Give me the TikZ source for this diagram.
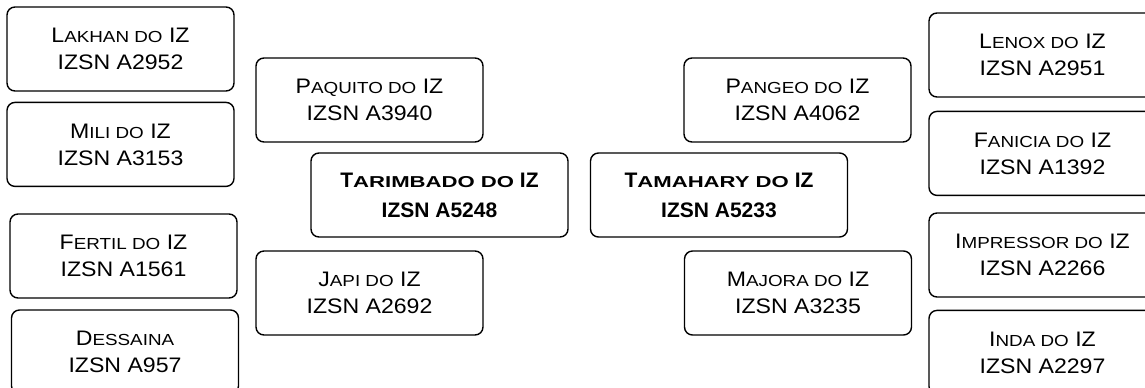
\documentclass[tikz,border=0pt]{standalone}
\usepackage{graphicx}
\usepackage{fontspec}
\newfontfamily\regfont{Liberation Sans}[FakeStretch=1.1]
\newfontfamily\headfont{Liberation Sans}
\usetikzlibrary{positioning}
\newcommand{\smc}[1]{\scalebox{1.07}[1]{\fontsize{8pt}{13.5pt}\selectfont\MakeUppercase{#1}}}
\newcommand{\bsmc}[1]{\scalebox{1.4}[1]{\fontsize{7.9pt}{15pt}\selectfont\MakeUppercase{#1}}}

\begin{document}
\begin{tikzpicture}[x=0.5pt, y=-0.5pt,
    animal/.style={draw, line width=0.7pt, rectangle, rounded corners=4pt, minimum width=113.5pt, minimum height=42pt, inner sep=0pt, align=center, font=\regfont\fontsize{10.5pt}{13.5pt}\selectfont},
    sire/.style={animal, minimum width=128.5pt, font=\headfont\bfseries\fontsize{10.5pt}{15pt}\selectfont}]
        \useasboundingbox (0,0) rectangle (1145,387);

        % the two sires in the middle
        \node [sire] (tarimbado) at (439.5,195) {T\bsmc{arimbado do} IZ\\ IZSN A5248};
        \node [sire] (tamahary) at (719,195) {T\bsmc{amahary do} IZ\\ IZSN A5233};

        % parents
        \node [animal] (paquito) at (369.5,100) {P\smc{aquito do} IZ\\ IZSN A3940};
        \node [animal] (japi) at (369.5,293) {J\smc{api do} IZ\\ IZSN A2692};
        \node [animal] (pangeo) at (797.5,100) {P\smc{angeo do} IZ\\ IZSN A4062};
        \node [animal] (majora) at (798,293) {M\smc{ajora do} IZ\\ IZSN A3235};

        % grandparents, left
        \node [animal] (lakhan) at (120.5,49) {L\smc{akhan do} IZ\\ IZSN A2952};
        \node [animal, below=5pt of lakhan] (mili) {M\smc{ili do} IZ\\ IZSN A3153};
        \node [animal] (fertil) at (123.5,256) {F\smc{ertil do} IZ\\ IZSN A1561};
        \node [animal] (dessaina) at (125,352) {D\smc{essaina}\\ IZSN A957};

        % grandparents, right
        \node [animal] (lenox) at (1042.5,55) {L\smc{enox do} IZ\\ IZSN A2951};
        \node [animal, below=6.5pt of lenox] (fanicia) {F\smc{anicia do} IZ\\ IZSN A1392};
        \node [animal] (impressor) at (1042.5,255) {I\smc{mpressor do} IZ\\ IZSN A2266};
        \node [animal, below=6pt of impressor] (inda) {I\smc{nda do} IZ\\ IZSN A2297};
    \end{tikzpicture}
\end{document}
